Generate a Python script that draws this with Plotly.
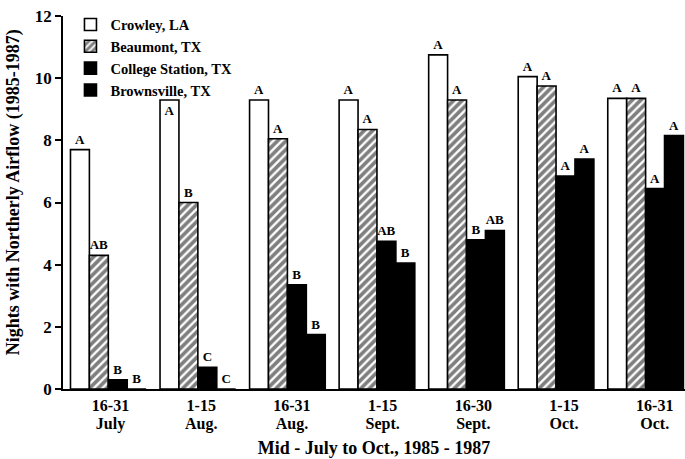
import plotly.graph_objects as go

period_days = ["16-31", "1-15", "16-31", "1-15", "16-30", "1-15", "16-31"]
period_months = ["July", "Aug.", "Aug.", "Sept.", "Sept.", "Oct.", "Oct."]

crowley = [7.7, 9.3, 9.3, 9.3, 10.75, 10.05, 9.35]
beaumont = [4.3, 6.0, 8.05, 8.35, 9.3, 9.75, 9.35]
college_station = [0.3, 0.7, 3.35, 4.75, 4.8, 6.85, 6.45]
brownsville = [0.0, 0.0, 1.75, 4.05, 5.1, 7.4, 8.15]

crowley_sig = ["A", "A", "A", "A", "A", "A", "A"]
beaumont_sig = ["AB", "B", "A", "A", "A", "A", "A"]
college_sig = ["B", "C", "B", "AB", "B", "A", "A"]
brownsville_sig = ["B", "C", "B", "B", "AB", "A", "A"]

SERIF = "Liberation Serif"
idx = list(range(len(period_days)))
letter_font = dict(family=SERIF, size=13, color="black", weight="bold")

fig = go.Figure()


def add_series(name, vals, sig, fill, pattern=None, positions="outside"):
    marker = dict(color=fill, line=dict(color="black", width=1.6))
    if pattern:
        marker["pattern"] = pattern
    fig.add_trace(go.Bar(
        name=name, x=idx, y=vals, text=sig, textangle=0,
        textposition=positions, insidetextanchor="end",
        textfont=letter_font, outsidetextfont=letter_font, insidetextfont=letter_font,
        cliponaxis=False, marker=marker, hoverinfo="y",
    ))


add_series("Crowley, LA", crowley, crowley_sig, "white",
           positions=["outside", "inside", "outside", "outside", "outside", "outside", "outside"])
add_series("Beaumont, TX", beaumont, beaumont_sig, "white",
           pattern=dict(shape="/", fgcolor="black", bgcolor="white", size=6, solidity=0.62))
add_series("College Station, TX", college_station, college_sig, "black")
add_series("Brownsville, TX", brownsville, brownsville_sig, "black")

# two overlaid label axes: day range on the first line, month on the second
for ax in ("x2", "x3"):
    fig.add_trace(go.Scatter(x=idx, y=[0] * len(idx), xaxis=ax, mode="markers",
                             marker=dict(opacity=0), showlegend=False, hoverinfo="skip"))

label_range = [-0.524, 6.334]
label_axis = dict(overlaying="x", anchor="y", side="bottom", range=label_range,
                  tickmode="array", tickvals=idx, ticks="", showline=False,
                  showgrid=False, zeroline=False,
                  tickfont=dict(family=SERIF, size=16, color="black", weight="bold"))

fig.update_layout(
    width=685, height=459,
    margin=dict(l=63, r=0, t=16, b=70),
    paper_bgcolor="white", plot_bgcolor="white",
    barmode="group", bargap=0.155, bargroupgap=0,
    font=dict(family=SERIF, size=14, color="black", weight="bold"),
    showlegend=True,
    legend=dict(x=0.012, y=1.02, xanchor="left", yanchor="top",
                bgcolor="rgba(0,0,0,0)", tracegroupgap=0,
                font=dict(family=SERIF, size=14.5, color="black", weight="bold")),
    xaxis=dict(range=[-0.506, 6.44], showticklabels=False, ticks="",
               showline=True, linecolor="black", linewidth=1.6,
               showgrid=False, zeroline=False,
               title=dict(text="Mid - July to Oct., 1985 - 1987", standoff=52,
                          font=dict(family=SERIF, size=18, weight="bold"))),
    xaxis2=dict(label_axis, ticktext=period_days, ticklabelstandoff=5),
    xaxis3=dict(label_axis, ticktext=period_months, ticklabelstandoff=23),
    yaxis=dict(range=[0, 12], tickmode="array", tickvals=[0, 2, 4, 6, 8, 10, 12],
               ticks="outside", ticklen=6, tickwidth=1.6, tickcolor="black",
               showline=True, linecolor="black", linewidth=1.6,
               showgrid=False, zeroline=False,
               tickfont=dict(family=SERIF, size=17, weight="bold")),
    annotations=[dict(text="Nights with Northerly Airflow (1985-1987)",
                      xref="paper", yref="paper", x=-0.079, y=0.527,
                      xanchor="center", yanchor="middle", textangle=-90,
                      showarrow=False,
                      font=dict(family=SERIF, size=18, color="black", weight="bold"))],
)

fig.write_html("out.html")
